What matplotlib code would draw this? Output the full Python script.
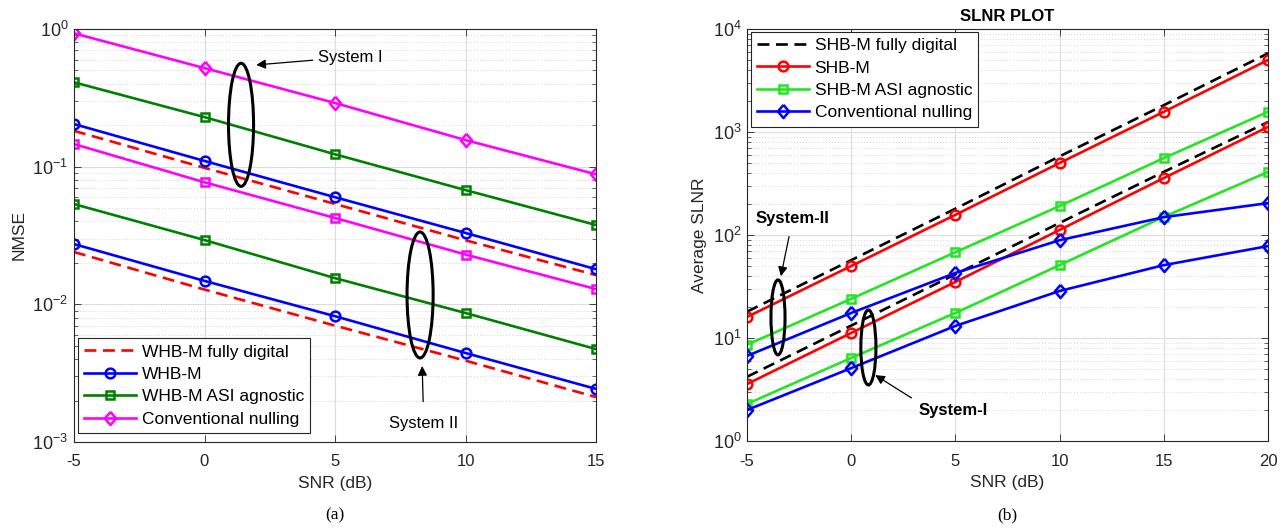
import numpy as np
import matplotlib
matplotlib.use("Agg")
import matplotlib.pyplot as plt
from matplotlib.patches import Ellipse
from matplotlib.ticker import LogLocator, NullFormatter, FixedLocator

plt.rcParams['font.family'] = ['Liberation Sans', 'DejaVu Sans']
plt.rcParams['mathtext.fontset'] = 'custom'
plt.rcParams['mathtext.rm'] = 'Liberation Sans'
plt.rcParams['mathtext.it'] = 'Liberation Sans'
plt.rcParams['mathtext.default'] = 'regular'
plt.rcParams['axes.unicode_minus'] = False

# ---------------- data: panel (a) ----------------
snr_a = [-5, 0, 5, 10, 15]
whb_fd_I = [0.182, 0.098, 0.0536, 0.0292, 0.0163]
whb_m_I = [0.204, 0.110, 0.060, 0.033, 0.018]
whb_asi_I = [0.41, 0.229, 0.123, 0.0676, 0.0377]
conv_I = [0.93, 0.52, 0.29, 0.156, 0.088]
whb_fd_II = [0.024, 0.0128, 0.0070, 0.0039, 0.00212]
whb_m_II = [0.0274, 0.0148, 0.0082, 0.00443, 0.00243]
whb_asi_II = [0.0535, 0.0293, 0.0155, 0.00865, 0.00473]
conv_II = [0.146, 0.077, 0.0424, 0.023, 0.0129]
labels_a = ['WHB-M fully digital', 'WHB-M', 'WHB-M ASI agnostic', 'Conventional nulling']

# ---------------- data: panel (b) ----------------
snr_b = [-5, 0, 5, 10, 15, 20]
shb_fd_II = [18.0, 57.0, 180.0, 580.0, 1820.0, 5800.0]
shb_m_II = [16.0, 50.0, 157.0, 500.0, 1570.0, 5000.0]
shb_asi_II = [8.6, 24.0, 68.0, 191.0, 558.0, 1570.0]
conv_b_II = [6.7, 17.5, 42.8, 89.0, 149.0, 204.0]
shb_fd_I = [4.2, 13.2, 41.5, 131.0, 410.0, 1250.0]
shb_m_I = [3.57, 11.2, 35.0, 112.0, 357.0, 1120.0]
shb_asi_I = [2.29, 6.4, 17.5, 51.0, 150.0, 409.0]
conv_b_I = [2.0, 5.1, 13.1, 28.6, 51.0, 78.0]
labels_b = ['SHB-M fully digital', 'SHB-M', 'SHB-M ASI agnostic', 'Conventional nulling']

W, H = 1282, 529
fig = plt.figure(figsize=(W / 100, H / 100), dpi=100)

LW = 1.9
MS = 7
MEW = 1.8
SQ = 5.5
DIA = [(0, 1), (0.85, 0), (0, -1), (-0.85, 0), (0, 1)]
DMS = 9.5
TXT = '#262626'


def style_axes(ax, xticks, ylim):
    ax.set_yscale('log')
    ax.set_xlim(xticks[0], xticks[-1])
    ax.set_ylim(*ylim)
    ax.xaxis.set_major_locator(FixedLocator(xticks))
    ax.set_xticklabels([str(t) for t in xticks])
    ax.yaxis.set_major_locator(LogLocator(base=10, numticks=10))
    ax.yaxis.set_minor_locator(LogLocator(base=10, subs=np.arange(2, 10), numticks=20))
    ax.yaxis.set_minor_formatter(NullFormatter())
    ax.tick_params(which='both', direction='in', top=True, right=True,
                   colors=TXT, labelcolor=TXT)
    ax.tick_params(axis='x', which='major', labelsize=12, pad=9)
    ax.tick_params(axis='y', which='major', labelsize=13, pad=4)
    ax.tick_params(which='major', length=5, width=0.6)
    ax.tick_params(which='minor', length=3, width=0.5)
    ax.grid(True, which='major', color='#dcdcdc', linestyle='-', linewidth=0.8)
    ax.grid(True, which='minor', axis='y', color='#c8c8c8', linestyle=(0, (1, 2.5)), linewidth=0.6)
    ax.set_axisbelow(True)
    for s in ax.spines.values():
        s.set_color('#262626')
        s.set_linewidth(0.8)


# ---------------- panel (a) ----------------
ax1 = fig.add_axes([74 / W, 1 - 442 / H, (596 - 74) / W, (442 - 29) / H])
style_axes(ax1, [-5, 0, 5, 10, 15], (1e-3, 1e0))

dash = (4.5, 2.5)
l1, = ax1.plot(snr_a, whb_fd_I, color='red', lw=LW, dashes=dash)
ax1.plot(snr_a, whb_fd_II, color='red', lw=LW, dashes=dash)
l2, = ax1.plot(snr_a, whb_m_I, color='blue', lw=LW, marker='o', ms=MS, mfc='none', mew=MEW)
ax1.plot(snr_a, whb_m_II, color='blue', lw=LW, marker='o', ms=MS, mfc='none', mew=MEW)
l3, = ax1.plot(snr_a, whb_asi_I, color='#008000', lw=LW, marker='s', ms=SQ, mfc='none', mew=MEW)
ax1.plot(snr_a, whb_asi_II, color='#008000', lw=LW, marker='s', ms=SQ, mfc='none', mew=MEW)
l4, = ax1.plot(snr_a, conv_I, color='magenta', lw=LW, marker=DIA, ms=DMS, mfc='none', mew=MEW)
ax1.plot(snr_a, conv_II, color='magenta', lw=LW, marker='s', ms=SQ, mfc='none', mew=MEW)

ax1.set_xlabel('SNR (dB)', fontsize=12.5, color=TXT, labelpad=5)
ax1.set_ylabel('NMSE', fontsize=12.5, color=TXT, labelpad=4)
leg1 = ax1.legend([l1, l2, l3, l4], labels_a, loc='lower left',
                  bbox_to_anchor=(0.008, 0.022), fontsize=12.5, handlelength=3.0,
                  labelspacing=0.42, handletextpad=0.3, borderpad=0.35,
                  borderaxespad=0.0, fancybox=False, framealpha=1)
leg1.get_frame().set_edgecolor('#262626')
leg1.get_frame().set_linewidth(0.8)

ax1.add_patch(Ellipse((0.32, 0.768), 0.048, 0.298, transform=ax1.transAxes,
                      fill=False, edgecolor='black', lw=2.2, zorder=5))
ax1.add_patch(Ellipse((0.663, 0.356), 0.05, 0.305, transform=ax1.transAxes,
                      fill=False, edgecolor='black', lw=2.2, zorder=5))
ax1.annotate('System I', xy=(0.349, 0.913), xycoords='axes fraction',
             xytext=(0.468, 0.932), textcoords='axes fraction',
             fontsize=12, va='center', ha='left', color='black',
             arrowprops=dict(arrowstyle='-|>', color='black', lw=0.9,
                             mutation_scale=14, shrinkA=2, shrinkB=0))
ax1.annotate('System II', xy=(0.667, 0.184), xycoords='axes fraction',
             xytext=(0.67, 0.046), textcoords='axes fraction',
             fontsize=12, va='center', ha='center', color='black',
             arrowprops=dict(arrowstyle='-|>', color='black', lw=0.9,
                             mutation_scale=14, shrinkA=8, shrinkB=0))

# ---------------- panel (b) ----------------
ax2 = fig.add_axes([747 / W, 1 - 441 / H, (1268 - 747) / W, (441 - 29) / H])
style_axes(ax2, [-5, 0, 5, 10, 15, 20], (1e0, 1e4))

g2 = '#22e622'
m1, = ax2.plot(snr_b, shb_fd_II, color='black', lw=LW, dashes=dash)
ax2.plot(snr_b, shb_fd_I, color='black', lw=LW, dashes=dash)
m2, = ax2.plot(snr_b, shb_m_II, color='red', lw=LW, marker='o', ms=MS, mfc='none', mew=MEW)
ax2.plot(snr_b, shb_m_I, color='red', lw=LW, marker='o', ms=MS, mfc='none', mew=MEW)
m3, = ax2.plot(snr_b, shb_asi_II, color=g2, lw=LW, marker='s', ms=SQ, mfc='none', mew=MEW)
ax2.plot(snr_b, shb_asi_I, color=g2, lw=LW, marker='s', ms=SQ, mfc='none', mew=MEW)
m4, = ax2.plot(snr_b, conv_b_II, color='blue', lw=LW, marker=DIA, ms=DMS, mfc='none', mew=MEW)
ax2.plot(snr_b, conv_b_I, color='blue', lw=LW, marker=DIA, ms=DMS, mfc='none', mew=MEW)

ax2.set_xlabel('SNR (dB)', fontsize=12.5, color=TXT, labelpad=5)
ax2.set_ylabel('Average SLNR', fontsize=12.5, color=TXT, labelpad=4)
ax2.set_title('SLNR PLOT', fontsize=12, fontweight='bold', pad=6)
leg2 = ax2.legend([m1, m2, m3, m4], labels_b, loc='upper left',
                  bbox_to_anchor=(0.008, 0.993), fontsize=12.5, handlelength=3.0,
                  labelspacing=0.42, handletextpad=0.3, borderpad=0.35,
                  borderaxespad=0.0, fancybox=False, framealpha=1)
leg2.get_frame().set_edgecolor('#262626')
leg2.get_frame().set_linewidth(0.8)

ax2.add_patch(Ellipse((0.0595, 0.30), 0.027, 0.182, transform=ax2.transAxes,
                      fill=False, edgecolor='black', lw=2.2, zorder=5))
ax2.add_patch(Ellipse((0.233, 0.227), 0.029, 0.182, transform=ax2.transAxes,
                      fill=False, edgecolor='black', lw=2.2, zorder=5))
ax2.annotate('System-II', xy=(0.065, 0.40), xycoords='axes fraction',
             xytext=(0.088, 0.541), textcoords='axes fraction',
             fontsize=12, fontweight='bold', va='center', ha='center', color='black',
             arrowprops=dict(arrowstyle='-|>', color='black', lw=0.9,
                             mutation_scale=14, shrinkA=6, shrinkB=0))
ax2.annotate('System-I', xy=(0.246, 0.16), xycoords='axes fraction',
             xytext=(0.33, 0.075), textcoords='axes fraction',
             fontsize=12, fontweight='bold', va='center', ha='left', color='black',
             arrowprops=dict(arrowstyle='-|>', color='black', lw=0.9,
                             mutation_scale=14, shrinkA=4, shrinkB=0,
                             relpos=(0.0, 1.0)))

# captions
fig.text(335 / W, 1 - 515 / H, '(a)', fontsize=12.5, family=['Liberation Serif'],
         ha='center', va='center')
fig.text(1007 / W, 1 - 515 / H, '(b)', fontsize=12.5, family=['Liberation Serif'],
         ha='center', va='center')

fig.savefig('out.png', dpi=100)
